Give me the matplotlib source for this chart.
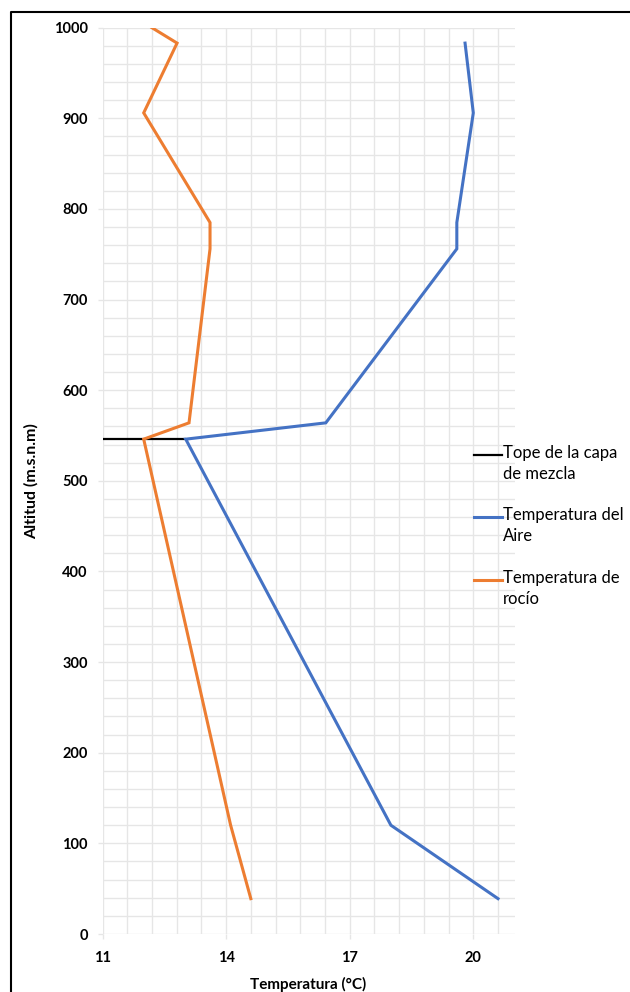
import numpy as np
import matplotlib
matplotlib.use('Agg')
import matplotlib.pyplot as plt
from matplotlib.lines import Line2D

plt.rcParams['font.family'] = ['Lato', 'DejaVu Sans']

# Sounding profile: altitude (m.s.n.m) and temperatures (°C)
alt_air = [983, 906, 785, 756, 564, 546, 120, 39]
temp_air = [19.8, 20.0, 19.6, 19.6, 16.42, 13.02, 18.0, 20.6]

alt_dew = [1000, 983, 906, 785, 756, 564, 546, 120, 39]
temp_dew = [12.2, 12.81, 12.0, 13.61, 13.61, 13.1, 12.0, 14.11, 14.6]

# Top of the mixing layer
mix_alt = [546, 546]
mix_temp = [11, 13.02]

x_ticks = [11, 14, 17, 20]
y_ticks = list(range(0, 1001, 100))

legend_labels = ['Tope de la capa\nde mezcla', 'Temperatura del\nAire', 'Temperatura de\nrocío']
colors = ['black', '#4472C4', '#ED7D31']

fig = plt.figure(figsize=(6.3, 9.92), dpi=100)
ax = fig.add_axes([102.5 / 630, 1 - 934 / 992, 412 / 630, (934 - 27.7) / 992])

grid_col = '#e6e6e6'
ax.set_xlim(11, 21)
ax.set_ylim(0, 1000)
ax.set_xticks(x_ticks)
ax.set_xticks(np.arange(11, 21, 0.6), minor=True)
ax.set_yticks(y_ticks)
ax.set_yticks(np.arange(0, 1001, 20), minor=True)
ax.grid(which='both', color=grid_col, linewidth=1)
ax.set_axisbelow(True)
for s in ax.spines.values():
    s.set_visible(False)
ax.tick_params(which='major', length=3.6, color=grid_col, width=1, labelsize=10.5, pad=7)
ax.tick_params(axis='x', pad=9)
ax.tick_params(which='minor', length=0)
for lbl in ax.get_xticklabels() + ax.get_yticklabels():
    lbl.set_fontweight('bold')

ax.plot(mix_temp, mix_alt, color=colors[0], lw=1.6, solid_capstyle='butt')
ax.plot(temp_air, alt_air, color=colors[1], lw=2.2, solid_joinstyle='miter')
ax.plot(temp_dew, alt_dew, color=colors[2], lw=2.2, solid_joinstyle='miter')

ax.set_xlabel('Temperatura (°C)', fontsize=11, fontweight='bold', labelpad=8)
ax.set_ylabel('Altitud (m.s.n.m)', fontsize=11.5, fontweight='bold', labelpad=11)

# Legend drawn by hand so the handle sits on the first text line
leg_y = [455, 517, 580]
for lab, c, y in zip(legend_labels, colors, leg_y):
    yf = 1 - y / 992
    fig.add_artist(Line2D([474 / 630, 502 / 630], [yf, yf], color=c,
                          lw=1.6 if c == 'black' else 2.2, transform=fig.transFigure))
    fig.text(503 / 630, yf + 10 / 992, lab, fontsize=12, va='top', ha='left',
             linespacing=1.4)

# Outer frame
fig.add_artist(Line2D([11 / 630, 11 / 630, 1], [0, 1 - 12 / 992, 1 - 12 / 992],
                      color='black', lw=1.5, transform=fig.transFigure))

fig.savefig('out.png', dpi=100)
